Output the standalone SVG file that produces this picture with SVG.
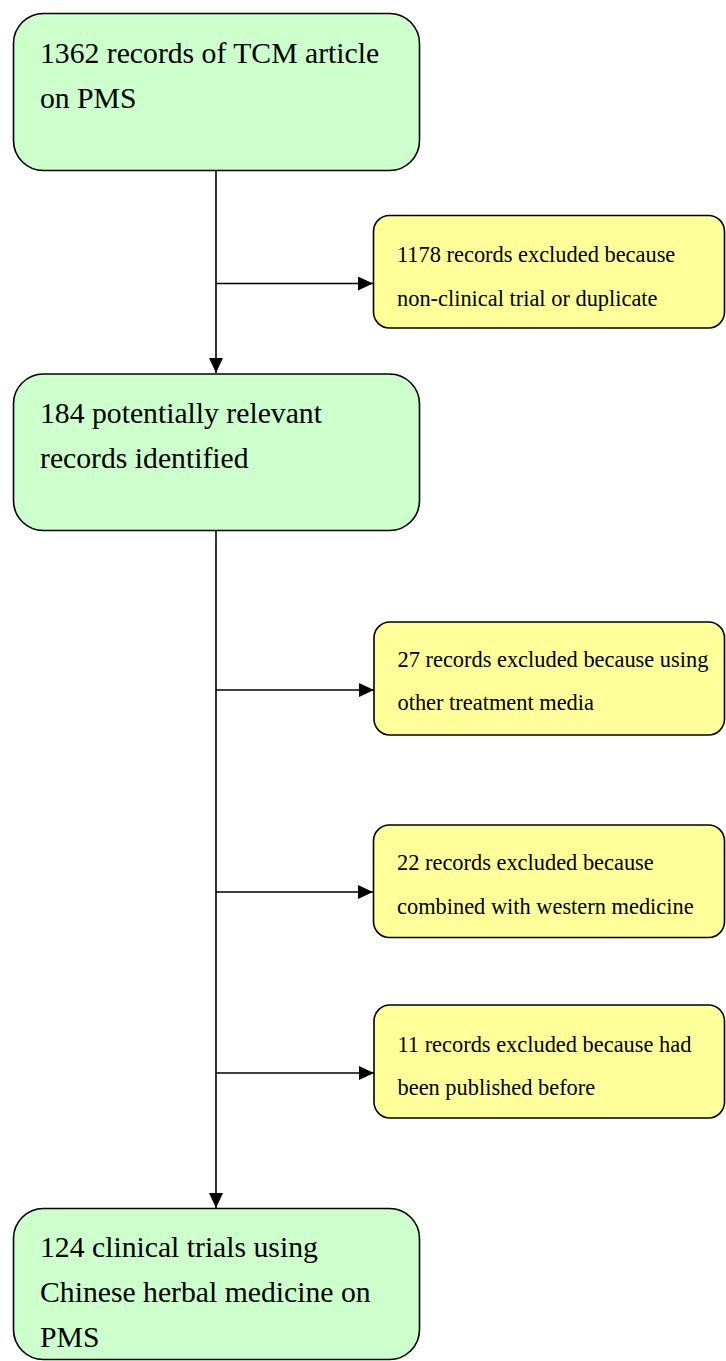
<svg xmlns="http://www.w3.org/2000/svg" width="726" height="1361" viewBox="0 0 726 1361">
<style>
.g{fill:#CCFFCC;stroke:#000;stroke-width:1.6}
.y{fill:#FFFF99;stroke:#000;stroke-width:1.6}
.tg{font-family:"Liberation Serif","Times New Roman",serif;font-size:29.7px;fill:#000}
.ty{font-family:"Liberation Serif","Times New Roman",serif;font-size:22.4px;fill:#000}
.c{stroke:#000;stroke-width:1.6;fill:none}
</style>
<defs>
<marker id="ah" markerWidth="15" markerHeight="14" refX="15" refY="7" orient="auto" markerUnits="userSpaceOnUse">
<path d="M0,0 L15,7 L0,14 Z" fill="#000"/>
</marker>
</defs>
<g id="connectors">
<line class="c" x1="216" y1="171" x2="216" y2="373" marker-end="url(#ah)"/>
<line class="c" x1="216" y1="283.5" x2="373" y2="283.5" marker-end="url(#ah)"/>
<line class="c" x1="216" y1="531" x2="216" y2="1208" marker-end="url(#ah)"/>
<line class="c" x1="216" y1="690" x2="374" y2="690" marker-end="url(#ah)"/>
<line class="c" x1="216" y1="892" x2="373" y2="892" marker-end="url(#ah)"/>
<line class="c" x1="216" y1="1073" x2="374" y2="1073" marker-end="url(#ah)"/>
</g>
<g id="n1">
<rect class="g" x="13.5" y="13.5" width="406" height="157" rx="30"/>
<text class="tg" x="40" y="63">1362 records of TCM article</text>
<text class="tg" x="40" y="108">on PMS</text>
</g>
<g id="e1">
<rect class="y" x="373.5" y="215.5" width="351" height="112.5" rx="16"/>
<text class="ty" x="397" y="262">1178 records excluded because</text>
<text class="ty" x="397" y="306">non-clinical trial or duplicate</text>
</g>
<g id="n2">
<rect class="g" x="13.5" y="374" width="406" height="156.5" rx="30"/>
<text class="tg" x="40" y="423">184 potentially relevant</text>
<text class="tg" x="40" y="468">records identified</text>
</g>
<g id="e2">
<rect class="y" x="374" y="622" width="350.5" height="113" rx="16"/>
<text class="ty" x="397.5" y="667">27 records excluded because using</text>
<text class="ty" x="397.5" y="710">other treatment media</text>
</g>
<g id="e3">
<rect class="y" x="373.5" y="825" width="351" height="112.5" rx="16"/>
<text class="ty" x="397" y="870">22 records excluded because</text>
<text class="ty" x="397" y="914">combined with western medicine</text>
</g>
<g id="e4">
<rect class="y" x="374" y="1005" width="350.5" height="113" rx="16"/>
<text class="ty" x="397.5" y="1052">11 records excluded because had</text>
<text class="ty" x="397.5" y="1095">been published before</text>
</g>
<g id="n3">
<rect class="g" x="13.5" y="1208.5" width="406" height="151" rx="30"/>
<text class="tg" x="40" y="1257">124 clinical trials using</text>
<text class="tg" x="40" y="1302">Chinese herbal medicine on</text>
<text class="tg" x="40" y="1347">PMS</text>
</g>
</svg>
